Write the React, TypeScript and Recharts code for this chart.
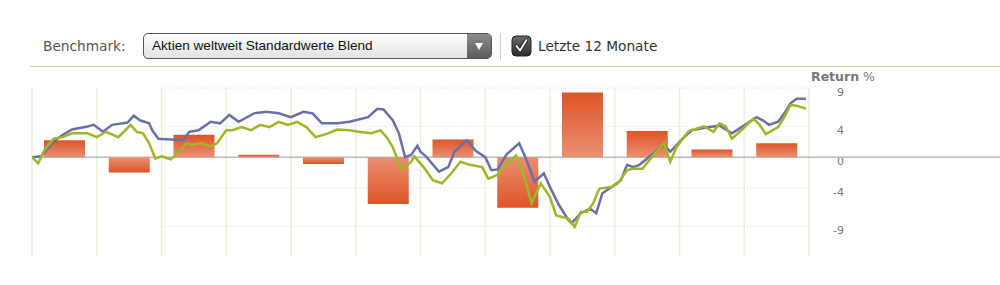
import React from 'react';
import {
  BarChart,
  Bar,
  Cell,
  LineChart,
  Line,
  XAxis,
  YAxis,
  ReferenceLine,
} from 'recharts';

// monthly fund return (bars), last 12 months
const months = ['1', '2', '3', '4', '5', '6', '7', '8', '9', '10', '11', '12'];
const monthlyReturns = [2.2, -2.0, 2.9, 0.3, -0.9, -6.1, 2.3, -6.6, 8.4, 3.4, 1.0, 1.8];

// cumulative return, fund (blue line) - trading day / value
const fundDays = [
  0, 3, 7, 10, 13, 18, 20, 23, 26, 31, 33, 35, 38, 39, 41, 45, 49, 51, 54, 58, 61, 64, 67, 72, 76, 80,
  84, 88, 91, 94, 99, 103, 109, 112, 114, 117, 119, 121, 123, 125, 126, 128, 132, 135, 137, 141, 144,
  147, 149, 151, 154, 158, 160, 163, 166, 168, 171, 174, 175, 178, 181, 183, 185, 188, 191, 193, 195,
  197, 201, 205, 207, 211, 214, 219, 223, 227, 232, 235, 237, 239, 242, 244, 246, 248, 251,
];
const fundReturns = [
  0, 0.1, 2.0, 2.9, 3.6, 4.0, 4.2, 3.3, 4.2, 4.5, 5.4, 4.8, 4.4, 3.5, 2.4, 2.3, 2.2, 3.3, 3.5, 4.6, 4.4,
  5.5, 4.6, 5.7, 5.9, 5.7, 5.2, 5.9, 5.7, 4.4, 4.4, 4.6, 5.2, 6.3, 6.2, 4.8, 3.1, 0.0, 0.3, 1.5, 0.7,
  0.0, -1.9, -1.3, 0.7, 2.2, 0.8, 0.0, -1.7, -1.6, 0.4, 1.8, 0.0, -3.2, -2.1, -3.9, -6.3, -8.2, -8.6,
  -7.3, -6.7, -7.3, -4.7, -3.9, -3.0, -1.0, -1.3, -1.0, 0.3, 1.6, 0.7, 2.4, 3.5, 3.9, 4.1, 3.1, 4.4,
  5.2, 4.8, 4.2, 4.6, 5.7, 7.0, 7.6, 7.6,
];

// cumulative return, benchmark (green line)
const benchDays = [
  0, 2, 4, 7, 10, 13, 18, 21, 24, 28, 32, 34, 36, 38, 40, 42, 45, 48, 50, 52, 55, 58, 60, 63, 65, 68,
  71, 74, 77, 80, 83, 86, 89, 92, 96, 99, 103, 106, 110, 113, 115, 117, 119, 120, 123, 124, 127, 130,
  133, 136, 139, 142, 146, 148, 151, 154, 157, 160, 162, 165, 168, 170, 174, 176, 178, 180, 182, 184,
  188, 190, 193, 195, 198, 201, 205, 207, 209, 213, 218, 221, 223, 225, 227, 230, 234, 236, 238, 242,
  244, 246, 248, 251,
];
const benchReturns = [
  0, -0.8, 0.9, 2.4, 2.6, 3.1, 3.1, 2.6, 3.3, 2.6, 4.2, 3.3, 3.1, 1.8, -0.2, 0.1, -0.3, 0.7, 1.8, 1.6,
  1.8, 1.4, 1.8, 3.5, 3.5, 3.9, 3.5, 4.2, 3.9, 4.6, 4.2, 4.6, 3.9, 2.6, 3.1, 3.6, 3.5, 3.3, 3.1, 3.5,
  2.6, 1.3, -0.8, -1.5, -0.6, 0.1, -1.3, -3.0, -3.4, -2.1, -0.6, -1.0, -1.3, -2.8, -2.3, -0.8, 0.2,
  -3.0, -6.0, -3.4, -5.2, -7.6, -8.0, -9.1, -7.1, -7.1, -6.0, -4.1, -3.9, -3.4, -1.7, -1.5, -1.5, 0,
  1.8, -0.6, 1.3, 3.4, 4.0, 3.3, 4.4, 4.0, 2.4, 3.5, 5.0, 4.2, 3.0, 3.9, 5.2, 6.8, 6.7, 6.3,
];

const monthStarts = [0, 21, 42, 63, 84, 105, 126, 147, 168, 189, 210, 231, 252];
const returnTicks = [-9, -4, 0, 4, 9];
const returnDomain = [-13, 9];
// the dotted helper lines only start at the third month in the original
const dottedFrom = 42;

const barTable = months.map((month, i) => ({ month, ret: monthlyReturns[i] }));

const dayTable = Array.from(new Set([...fundDays, ...benchDays]))
  .sort((a, b) => a - b)
  .map((day) => {
    const fi = fundDays.indexOf(day);
    const bi = benchDays.indexOf(day);
    return {
      day,
      fund: fi >= 0 ? fundReturns[fi] : null,
      bench: bi >= 0 ? benchReturns[bi] : null,
    };
  });

const W = 1000;
const H = 285;
const AXIS_W = 60;
const margin = { top: 88, right: 131, bottom: 28, left: 32 };
const font = '"DejaVu Sans", Verdana, sans-serif';

const ReturnTick = ({ x, y, payload }: any) => (
  <g>
    <text x={x + 27} y={y + 8} textAnchor="end" fontSize={11} fill="#777" fontFamily={font}>
      {payload.value}
    </text>
    {payload.value === 0 && (
      <line x1={x - 8} x2={x + 200} y1={y} y2={y} stroke="#b9b9b9" strokeWidth={1.5} />
    )}
  </g>
);

const layer: React.CSSProperties = { position: 'absolute', left: 0, top: 0 };

const Header = () => (
  <>
    <div style={{ position: 'absolute', left: 43, top: 38, fontFamily: font, fontSize: 13.7, lineHeight: '16px', color: '#555' }}>
      Benchmark:
    </div>
    <div
      style={{
        position: 'absolute',
        left: 143,
        top: 33,
        width: 347,
        height: 24,
        border: '1px solid #555',
        borderRadius: 5,
        background: 'linear-gradient(#ffffff, #e2e2e2)',
        overflow: 'hidden',
      }}
    >
      <div style={{ position: 'absolute', left: 8, top: 0, lineHeight: '24px', fontFamily: '"Liberation Sans", Arial, sans-serif', fontSize: 13.6, color: '#111' }}>
        Aktien weltweit Standardwerte Blend
      </div>
      <div
        style={{
          position: 'absolute',
          right: 0,
          top: 0,
          width: 24,
          height: 24,
          background: 'linear-gradient(#8c8c8c, #5c5c5c)',
        }}
      >
        <div
          style={{
            position: 'absolute',
            left: 8,
            top: 9,
            width: 0,
            height: 0,
            borderLeft: '4px solid transparent',
            borderRight: '4px solid transparent',
            borderTop: '7px solid #fff',
          }}
        />
      </div>
    </div>
    <div style={{ position: 'absolute', left: 500, top: 33, width: 1, height: 27, background: '#d0d0d0' }} />
    <svg style={{ position: 'absolute', left: 511, top: 35 }} width={22} height={22}>
      <defs>
        <linearGradient id="cb" x1="0" y1="0" x2="0" y2="1">
          <stop offset="0%" stopColor="#6a6a6a" />
          <stop offset="100%" stopColor="#2e2e2e" />
        </linearGradient>
      </defs>
      <rect x={1} y={1} width={19} height={20} rx={4} fill="url(#cb)" stroke="#222" />
      <path d="M5.5 11 L9 15.5 L15.5 5" fill="none" stroke="#222" strokeWidth={3.5} strokeLinecap="round" strokeLinejoin="round" />
      <path d="M5.5 11 L9 15.5 L15.5 5" fill="none" stroke="#fff" strokeWidth={1.8} strokeLinecap="round" strokeLinejoin="round" />
    </svg>
    <div style={{ position: 'absolute', left: 538, top: 38, fontFamily: font, fontSize: 13.7, lineHeight: '16px', color: '#333' }}>
      Letzte 12 Monate
    </div>
    <div style={{ position: 'absolute', left: 30, top: 66, width: 970, height: 1, background: '#cfd38a' }} />
    <div style={{ position: 'absolute', left: 811, top: 70, fontFamily: font, fontSize: 12.5, lineHeight: '14px', color: '#777' }}>
      <b>Return</b> %
    </div>
  </>
);

export default function App() {
  return (
    <div style={{ position: 'absolute', left: 0, top: 0, width: W, height: H, background: '#fff', overflow: 'hidden' }}>
      <Header />

      {/* grid, zero line and right axis */}
      <div style={layer}>
        <LineChart width={W} height={H} data={dayTable} margin={margin}>
          <XAxis type="number" dataKey="day" domain={[0, 252]} ticks={monthStarts} allowDataOverflow hide />
          <YAxis
            orientation="right"
            width={AXIS_W}
            domain={returnDomain}
            ticks={returnTicks}
            allowDataOverflow
            interval={0}
            axisLine={false}
            tickLine={false}
            tick={<ReturnTick />}
          />
          {monthStarts.map((d) => (
            <ReferenceLine key={d} x={d} stroke="#efeddb" strokeWidth={1.5} />
          ))}
          {returnTicks
            .filter((t) => t !== 0)
            .map((t) => (
              <ReferenceLine
                key={t}
                segment={[{ x: dottedFrom, y: t }, { x: 252, y: t }]}
                stroke="#dcdcd6"
                strokeDasharray="1 2"
              />
            ))}
          <ReferenceLine y={0} stroke="#b9b9b9" strokeWidth={1.5} />
        </LineChart>
      </div>

      {/* monthly bars */}
      <div style={layer}>
        <BarChart width={W} height={H} data={barTable} margin={margin}>
          <defs>
            <linearGradient id="barUp" x1="0" y1="0" x2="0" y2="1">
              <stop offset="0%" stopColor="#de5426" />
              <stop offset="100%" stopColor="#eb8f72" />
            </linearGradient>
            <linearGradient id="barDown" x1="0" y1="0" x2="0" y2="1">
              <stop offset="0%" stopColor="#eb8f72" />
              <stop offset="100%" stopColor="#de5426" />
            </linearGradient>
          </defs>
          <XAxis dataKey="month" hide />
          <YAxis orientation="right" width={AXIS_W} domain={returnDomain} ticks={returnTicks} allowDataOverflow axisLine={false} tickLine={false} tick={false} />
          <Bar dataKey="ret" barSize={41} isAnimationActive={false}>
            {monthlyReturns.map((v, i) => (
              <Cell key={i} fill={v >= 0 ? 'url(#barUp)' : 'url(#barDown)'} />
            ))}
          </Bar>
        </BarChart>
      </div>

      {/* cumulative return lines */}
      <div style={layer}>
        <LineChart width={W} height={H} data={dayTable} margin={margin}>
          <XAxis type="number" dataKey="day" domain={[0, 252]} ticks={monthStarts} allowDataOverflow hide />
          <YAxis orientation="right" width={AXIS_W} domain={returnDomain} ticks={returnTicks} allowDataOverflow axisLine={false} tickLine={false} tick={false} />
          <Line type="linear" dataKey="fund" stroke="#6970a6" strokeWidth={2.5} dot={false} connectNulls isAnimationActive={false} />
          <Line type="linear" dataKey="bench" stroke="#9cb727" strokeWidth={2.5} dot={false} connectNulls isAnimationActive={false} />
        </LineChart>
      </div>
    </div>
  );
}
